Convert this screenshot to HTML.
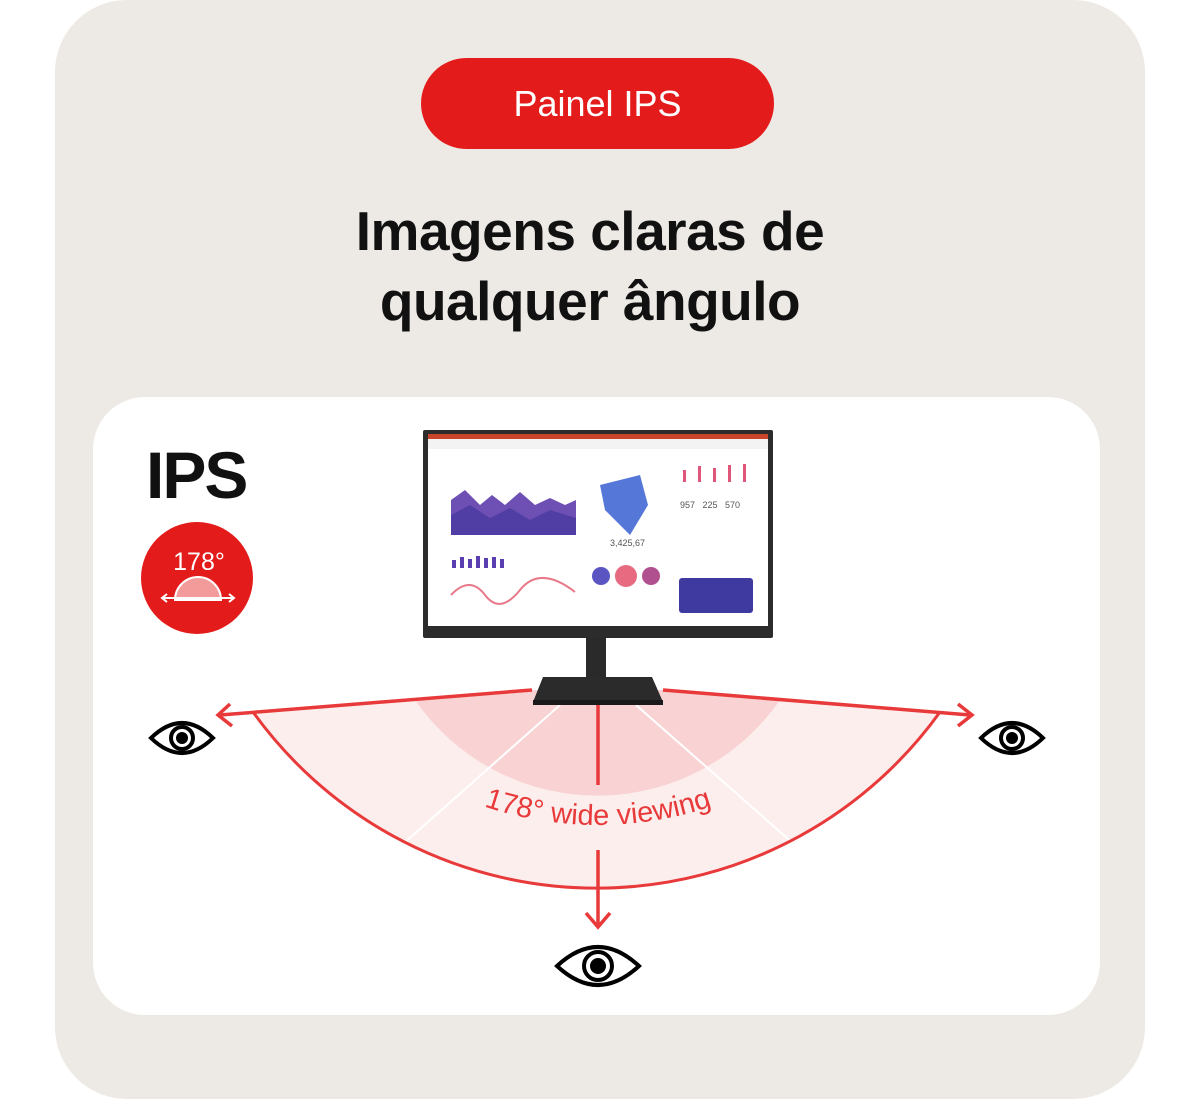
<!DOCTYPE html>
<html><head><meta charset="utf-8"><style>
html,body{margin:0;padding:0;background:#fff;}
body{width:1200px;height:1099px;position:relative;overflow:hidden;font-family:"Liberation Sans",sans-serif;}
.card{position:absolute;left:55px;top:0;width:1090px;height:1099px;background:#ede9e4;border-radius:72px;}
.pill{position:absolute;left:421px;top:58px;width:353px;height:91px;background:#e41b1b;border-radius:46px;color:#fff;font-size:36px;text-align:center;line-height:91px;}
.h{position:absolute;left:0;width:1200px;top:196px;text-align:center;font-size:55px;font-weight:bold;line-height:70px;color:#111;letter-spacing:-0.5px;margin-left:-10px;}
.inner{position:absolute;left:93px;top:397px;width:1007px;height:618px;background:#fff;border-radius:52px;}
</style></head><body>
<div class="card"></div>
<div class="pill">Painel IPS</div>
<div class="h">Imagens claras de<br>qualquer ângulo</div>
<div class="inner"></div>
<svg width="1200" height="1099" style="position:absolute;left:0;top:0">
<text x="146" y="498" font-size="66" font-weight="bold" fill="#111" font-family="Liberation Sans, sans-serif" letter-spacing="-2">IPS</text>
<circle cx="197" cy="578" r="56" fill="#e41b1b"/>
<text x="199" y="570" font-size="25" fill="#fff" text-anchor="middle" font-family="Liberation Sans, sans-serif">178°</text>
<path d="M175,600 A23,23 0 0 1 221,600 Z" fill="#f39b9b" stroke="#fff" stroke-width="2"/>
<path d="M163,598 L233,598" stroke="#fff" stroke-width="2"/>
<path d="M167,594 L162,598 L167,602 M229,594 L234,598 L229,602" stroke="#fff" stroke-width="2" fill="none"/>
<!-- fan -->
<path d="M530,690 L253,712 A423,423 0 0 0 940,712 L665,690 Z" fill="#fdeeee"/>
<path d="M530,690 L415,700 A222,222 0 0 0 780,700 L665,690 Z" fill="#f9d3d3"/>
<g stroke="#fff" stroke-width="2">
<line x1="560" y1="705" x2="385" y2="860"/><line x1="636" y1="705" x2="812" y2="860"/>
</g>
<path d="M253,712 A423,423 0 0 0 940,712" fill="none" stroke="#e83a3a" stroke-width="3"/>
<g stroke="#e83a3a" stroke-width="3.5" fill="none">
<line x1="532" y1="690" x2="220" y2="715"/><path d="M230,704 L218,715 L232,726"/>
<line x1="663" y1="690" x2="970" y2="715"/><path d="M958,704 L972,715 L958,726"/>
<line x1="598" y1="705" x2="598" y2="785"/><line x1="598" y1="850" x2="598" y2="926"/>
<path d="M586,913 L598,927 L610,913"/>
</g>
<path id="tp" d="M250,551 A358,358 0 0 0 946,551" fill="none"/>
<text font-size="29" fill="#e83a3a" font-family="Liberation Sans, sans-serif"><textPath href="#tp" startOffset="50%" text-anchor="middle">178° wide viewing</textPath></text>
<!-- monitor -->
<rect x="586" y="636" width="20" height="44" fill="#2a2a2a"/>
<path d="M543,677 L652,677 L663,702 L533,702 Z" fill="#2b2b2b"/>
<rect x="533" y="700" width="130" height="5" fill="#1a1a1a"/>
<rect x="423" y="430" width="350" height="208" rx="2" fill="#2c2c2c"/>
<rect x="428" y="434" width="340" height="192" fill="#fff"/>
<rect x="428" y="434" width="340" height="5" fill="#c8442a"/>
<rect x="428" y="439" width="340" height="10" fill="#f3f3f3"/>
<path d="M451,535 L451,500 L465,490 L480,505 L492,495 L505,505 L520,492 L535,505 L550,498 L565,505 L576,500 L576,535 Z" fill="#6e4fb3"/>
<path d="M451,535 L451,515 L470,505 L490,518 L510,508 L530,520 L550,510 L576,518 L576,535 Z" fill="#4a3aa0" opacity="0.8"/>
<g fill="#5a3fb0"><rect x="452" y="560" width="4" height="8"/><rect x="460" y="557" width="4" height="11"/><rect x="468" y="559" width="4" height="9"/><rect x="476" y="556" width="4" height="12"/><rect x="484" y="558" width="4" height="10"/><rect x="492" y="557" width="4" height="11"/><rect x="500" y="559" width="4" height="9"/></g>
<path d="M451,595 Q470,575 485,595 T520,590 T575,592" stroke="#e8798a" stroke-width="2" fill="none"/>
<path d="M600,485 L640,475 L648,505 L630,535 L605,510 Z" fill="#5577d8"/>
<circle cx="601" cy="576" r="9" fill="#5a55c0"/><circle cx="626" cy="576" r="11" fill="#e86a80"/><circle cx="651" cy="576" r="9" fill="#b1508e"/>
<rect x="679" y="578" width="74" height="35" rx="3" fill="#3f3aa0"/>
<g fill="#e0557a"><rect x="683" y="470" width="3" height="12"/><rect x="698" y="466" width="3" height="16"/><rect x="713" y="468" width="3" height="14"/><rect x="728" y="465" width="3" height="17"/><rect x="743" y="464" width="3" height="18"/></g>
<text x="680" y="508" font-size="9" fill="#555" font-family="Liberation Sans, sans-serif">957 &#160; 225 &#160; 570</text>
<text x="610" y="546" font-size="9" fill="#555" font-family="Liberation Sans, sans-serif">3,425,67</text>
<!-- eyes -->
<g fill="none" stroke="#000" stroke-width="4">
<path d="M151,738 Q182,708 213,738 Q182,768 151,738 Z"/><circle cx="182" cy="738" r="11"/>
<path d="M981,738 Q1012,708 1043,738 Q1012,768 981,738 Z"/><circle cx="1012" cy="738" r="11"/>
<path d="M557,966 Q598,928 639,966 Q598,1004 557,966 Z"/><circle cx="598" cy="966" r="14"/>
</g>
<circle cx="182" cy="738" r="6" fill="#000"/><circle cx="1012" cy="738" r="6" fill="#000"/><circle cx="598" cy="966" r="8" fill="#000"/>
</svg>
</body></html>
